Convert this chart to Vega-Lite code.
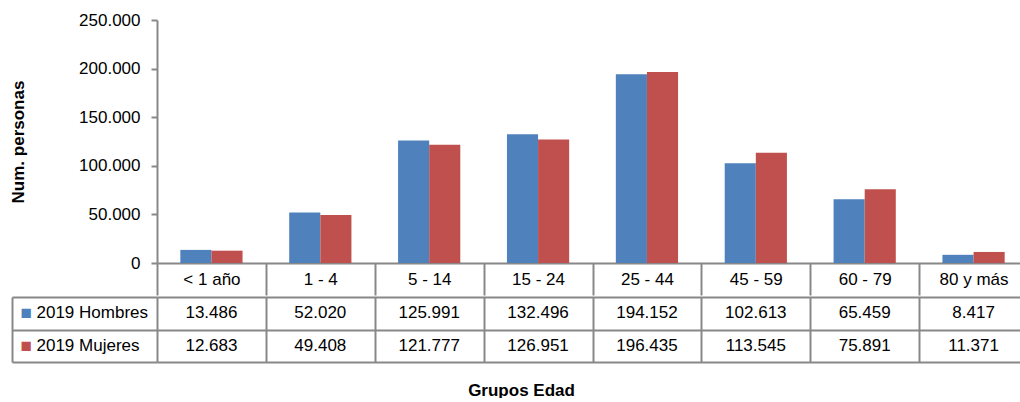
{
  "$schema": "https://vega.github.io/schema/vega-lite/v6.json",
  "padding": {"left": 9, "top": 11, "right": 0, "bottom": 0},
  "config": {
    "locale": {"number": {"decimal": ",", "thousands": ".", "grouping": [3], "currency": ["", " €"]}},
    "font": "Liberation Sans",
    "view": {"stroke": null},
    "concat": {"spacing": 0}
  },
  "datasets": {
    "d": [
      {"grupo": "< 1 año", "serie": "2019 Hombres", "valor": 13486},
      {"grupo": "1 - 4", "serie": "2019 Hombres", "valor": 52020},
      {"grupo": "5 - 14", "serie": "2019 Hombres", "valor": 125991},
      {"grupo": "15 - 24", "serie": "2019 Hombres", "valor": 132496},
      {"grupo": "25 - 44", "serie": "2019 Hombres", "valor": 194152},
      {"grupo": "45 - 59", "serie": "2019 Hombres", "valor": 102613},
      {"grupo": "60 - 79", "serie": "2019 Hombres", "valor": 65459},
      {"grupo": "80 y más", "serie": "2019 Hombres", "valor": 8417},
      {"grupo": "< 1 año", "serie": "2019 Mujeres", "valor": 12683},
      {"grupo": "1 - 4", "serie": "2019 Mujeres", "valor": 49408},
      {"grupo": "5 - 14", "serie": "2019 Mujeres", "valor": 121777},
      {"grupo": "15 - 24", "serie": "2019 Mujeres", "valor": 126951},
      {"grupo": "25 - 44", "serie": "2019 Mujeres", "valor": 196435},
      {"grupo": "45 - 59", "serie": "2019 Mujeres", "valor": 113545},
      {"grupo": "60 - 79", "serie": "2019 Mujeres", "valor": 75891},
      {"grupo": "80 y más", "serie": "2019 Mujeres", "valor": 11371}
    ]
  },
  "vconcat": [
    {
      "width": 871,
      "height": 243,
      "data": {"name": "d"},
      "mark": {"type": "bar"},
      "encoding": {
        "x": {
          "field": "grupo", "type": "nominal",
          "sort": ["< 1 año", "1 - 4", "5 - 14", "15 - 24", "25 - 44", "45 - 59", "60 - 79", "80 y más"],
          "scale": {"paddingInner": 0, "paddingOuter": 0},
          "axis": {
            "title": null, "tickBand": "extent", "tickSize": 32, "tickColor": "#888888", "tickWidth": 2,
            "domainColor": "#888888", "domainWidth": 2, "labelAngle": 0, "labelPadding": -16,
            "labelBaseline": "middle", "labelFontSize": 17, "labelColor": "#000000"
          }
        },
        "xOffset": {
          "field": "serie", "type": "nominal",
          "sort": ["2019 Hombres", "2019 Mujeres"],
          "scale": {"paddingInner": 0, "paddingOuter": 0.75}
        },
        "y": {
          "field": "valor", "type": "quantitative",
          "scale": {"domain": [0, 250000], "nice": false},
          "axis": {
            "values": [0, 50000, 100000, 150000, 200000, 250000], "format": ",d",
            "title": "Num. personas", "titleFontSize": 17, "titleFontWeight": "bold", "titleColor": "#000000",
            "titlePadding": 51, "labelFontSize": 17, "labelColor": "#000000", "tickSize": 6, "labelPadding": 11,
            "grid": false, "domainColor": "#888888", "domainWidth": 2, "tickColor": "#888888", "tickWidth": 2
          }
        },
        "color": {
          "field": "serie", "type": "nominal",
          "scale": {"domain": ["2019 Hombres", "2019 Mujeres"], "range": ["#4F81BD", "#C0504D"]},
          "legend": null
        }
      }
    },
    {
      "width": 871,
      "height": 65,
      "data": {"name": "d"},
      "encoding": {
        "x": {
          "field": "grupo", "type": "nominal",
          "sort": ["< 1 año", "1 - 4", "5 - 14", "15 - 24", "25 - 44", "45 - 59", "60 - 79", "80 y más"],
          "scale": {"paddingInner": 0, "paddingOuter": 0},
          "axis": {
            "tickBand": "extent", "grid": true, "gridColor": "#888888", "gridWidth": 2, "gridOpacity": 1,
            "ticks": false, "labels": false, "domain": false,
            "title": "Grupos Edad", "titleFontSize": 17, "titleFontWeight": "bold", "titleColor": "#000000",
            "titlePadding": 20, "titleX": 364
          }
        }
      },
      "layer": [
        {
          "mark": {"type": "text", "fontSize": 17, "color": "#000000"},
          "encoding": {
            "y": {
              "field": "serie", "type": "nominal", "sort": ["2019 Hombres", "2019 Mujeres"],
              "scale": {"paddingInner": 0, "paddingOuter": 0},
              "axis": {
                "orient": "left", "offset": 145, "title": null, "tickBand": "extent",
                "grid": true, "gridColor": "#888888", "gridWidth": 2, "gridOpacity": 1,
                "domainColor": "#888888", "domainWidth": 2,
                "ticks": true, "tickSize": -145, "tickColor": "#888888", "tickWidth": 2,
                "labels": false
              }
            },
            "text": {"field": "valor", "type": "quantitative", "format": ","}
          }
        },
        {
          "mark": {"type": "text", "fontSize": 17, "opacity": 0},
          "encoding": {
            "y": {
              "field": "serie", "type": "nominal", "sort": ["2019 Hombres", "2019 Mujeres"],
              "scale": {"paddingInner": 0, "paddingOuter": 0},
              "axis": {
                "orient": "left", "offset": 0, "title": null, "domain": false, "ticks": false, "tickSize": 0,
                "grid": false, "labelAlign": "left", "labelPadding": 121, "labelFontSize": 17,
                "labelColor": "#000000", "labelBaseline": "middle"
              }
            },
            "text": {"field": "valor", "type": "quantitative", "format": ","}
          }
        },
        {
          "mark": {"type": "text", "fontSize": 17, "opacity": 0},
          "encoding": {
            "y": {
              "field": "serie", "type": "nominal", "sort": ["2019 Hombres", "2019 Mujeres"],
              "scale": {"paddingInner": 0, "paddingOuter": 0},
              "axis": {
                "orient": "left", "offset": 0, "title": null, "domain": false, "ticks": false, "tickSize": 0,
                "grid": false, "labelExpr": "'■'", "labelAlign": "left", "labelPadding": 137, "labelFontSize": 19,
                "labelBaseline": "middle",
                "labelColor": {"condition": {"test": "datum.value === '2019 Hombres'", "value": "#4F81BD"}, "value": "#C0504D"}
              }
            },
            "text": {"field": "valor", "type": "quantitative", "format": ","}
          }
        }
      ],
      "resolve": {"axis": {"y": "independent"}}
    }
  ]
}
